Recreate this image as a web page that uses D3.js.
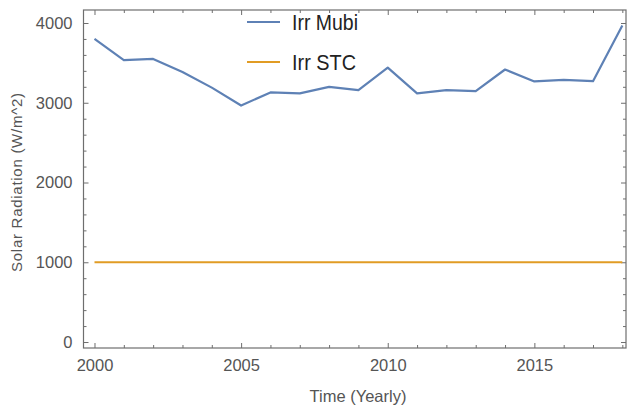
<!DOCTYPE html>
<html>
<head>
<meta charset="utf-8">
<script src="https://cdn.jsdelivr.net/npm/d3@7/dist/d3.min.js"></script>
<style>
  html, body { margin: 0; padding: 0; background: #fff; }
  svg { display: block; font-family: "Liberation Sans", Arial, sans-serif; }
</style>
</head>
<body>
<svg id="chart" width="630" height="408"></svg>
<script>
// Yearly solar radiation at Mubi vs. the STC reference irradiance
const years = [2000, 2001, 2002, 2003, 2004, 2005, 2006, 2007, 2008, 2009,
               2010, 2011, 2012, 2013, 2014, 2015, 2016, 2017, 2018];
const irrMubi = [3800, 3535, 3550, 3385, 3190, 2965, 3130, 3117, 3200, 3158,
                 3440, 3117, 3158, 3145, 3417, 3267, 3287, 3270, 3970];
const irrSTC = years.map(() => 1000);
const seriesNames = ["Irr Mubi", "Irr STC"];
const seriesColors = ["#5e81b5", "#e19c24"];
const xMajorTicks = [2000, 2005, 2010, 2015];
const yMajorTicks = [0, 1000, 2000, 3000, 4000];

const svg = d3.select("#chart");
const frame = { left: 83.5, right: 626, top: 10, bottom: 348 };

const x = d3.scaleLinear().domain([1999.625, 2018.125]).range([frame.left, frame.right]);
const y = d3.scaleLinear().domain([-75, 4163]).range([frame.bottom, frame.top]);

const axisColor = "#6e6e6e";
const textColor = "#555";
const fontStack = "'Liberation Sans', Arial, sans-serif";

// Frame ticks (inward, Mathematica style)
const xMinor = d3.range(2000, 2019, 1).filter(v => !xMajorTicks.includes(v));
const yMinor = d3.range(0, 4001, 200).filter(v => !yMajorTicks.includes(v));

function styleAxis(g) {
  g.select(".domain").remove();
  g.selectAll("line").attr("stroke", axisColor).attr("stroke-width", 1);
  g.selectAll("text").attr("fill", textColor)
    .style("font-size", "16.5px").style("font-family", fontStack);
}

// bottom
svg.append("g").attr("transform", `translate(0,${frame.bottom})`)
  .call(d3.axisBottom(x).tickValues(xMajorTicks).tickFormat(d3.format("d"))
        .tickSizeInner(-5).tickPadding(11))
  .call(styleAxis);
svg.append("g").attr("transform", `translate(0,${frame.bottom})`)
  .call(d3.axisBottom(x).tickValues(xMinor).tickFormat("").tickSizeInner(-3))
  .call(styleAxis);
// top
svg.append("g").attr("transform", `translate(0,${frame.top})`)
  .call(d3.axisTop(x).tickValues(xMajorTicks).tickFormat("").tickSizeInner(-5))
  .call(styleAxis);
svg.append("g").attr("transform", `translate(0,${frame.top})`)
  .call(d3.axisTop(x).tickValues(xMinor).tickFormat("").tickSizeInner(-3))
  .call(styleAxis);
// left
svg.append("g").attr("transform", `translate(${frame.left},0)`)
  .call(d3.axisLeft(y).tickValues(yMajorTicks).tickFormat(d3.format("d"))
        .tickSizeInner(-5).tickPadding(11))
  .call(styleAxis);
svg.append("g").attr("transform", `translate(${frame.left},0)`)
  .call(d3.axisLeft(y).tickValues(yMinor).tickFormat("").tickSizeInner(-3))
  .call(styleAxis);
// right
svg.append("g").attr("transform", `translate(${frame.right},0)`)
  .call(d3.axisRight(y).tickValues(yMajorTicks).tickFormat("").tickSizeInner(-5))
  .call(styleAxis);
svg.append("g").attr("transform", `translate(${frame.right},0)`)
  .call(d3.axisRight(y).tickValues(yMinor).tickFormat("").tickSizeInner(-3))
  .call(styleAxis);

// frame border
svg.append("rect")
  .attr("x", frame.left).attr("y", frame.top)
  .attr("width", frame.right - frame.left).attr("height", frame.bottom - frame.top)
  .attr("fill", "none").attr("stroke", axisColor).attr("stroke-width", 1.2);

// series
const line = d3.line().x((d, i) => x(years[i])).y(d => y(d));
[irrMubi, irrSTC].forEach((vals, k) => {
  svg.append("path").datum(vals)
    .attr("d", line)
    .attr("fill", "none")
    .attr("stroke", seriesColors[k])
    .attr("stroke-width", 2.2)
    .attr("stroke-linejoin", "round");
});

// legend
const legend = svg.append("g");
const legendY = [22, 62];
seriesNames.forEach((name, k) => {
  legend.append("line")
    .attr("x1", 247).attr("x2", 280)
    .attr("y1", legendY[k]).attr("y2", legendY[k])
    .attr("stroke", seriesColors[k]).attr("stroke-width", 2.2);
  legend.append("text")
    .attr("x", 292).attr("y", legendY[k] + 8)
    .attr("fill", "#222")
    .attr("textLength", k === 0 ? 66 : 64)
    .attr("lengthAdjust", "spacingAndGlyphs")
    .style("font-size", "22px")
    .style("font-family", fontStack)
    .text(name);
});

// axis titles
svg.append("text")
  .attr("x", 358).attr("y", 402)
  .attr("text-anchor", "middle")
  .attr("fill", textColor)
  .style("font-size", "16.5px")
  .style("font-family", fontStack)
  .text("Time (Yearly)");

svg.append("text")
  .attr("transform", "translate(22,182.5) rotate(-90)")
  .attr("text-anchor", "middle")
  .attr("fill", textColor)
  .attr("textLength", 179)
  .attr("lengthAdjust", "spacing")
  .style("font-size", "15px")
  .style("font-family", fontStack)
  .text("Solar Radiation (W/m^2)");
</script>
</body>
</html>
